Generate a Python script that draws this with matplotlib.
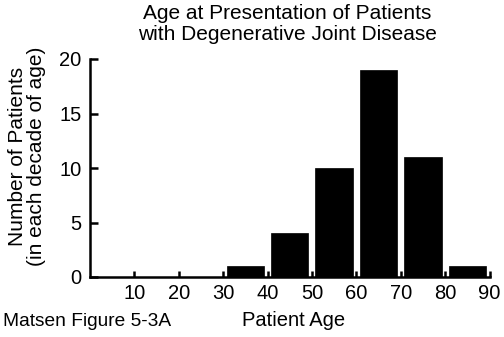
import matplotlib.pyplot as plt

# patients per decade of age
decade_start = [0, 10, 20, 30, 40, 50, 60, 70, 80]
patients = [0, 0, 0, 1, 4, 10, 19, 11, 1]
xticks = [10, 20, 30, 40, 50, 60, 70, 80, 90]
yticks = [0, 5, 10, 15, 20]

plt.rcParams['font.family'] = ['Liberation Sans', 'DejaVu Sans']

fig = plt.figure(figsize=(5.04, 3.37), dpi=100)
ax = fig.add_axes([90/504, 1-277/337, 399.5/504, 218/337])

centers = [d + 5 for d in decade_start]
ax.bar(centers, patients, width=8.4, color='black', edgecolor='black', linewidth=0.5)

ax.set_xlim(0, 90)
ax.set_ylim(0, 20)
ax.set_xticks(xticks)
ax.set_yticks(yticks)
ax.tick_params(axis='both', direction='in', labelsize=14.5, width=1.8, colors='black')
ax.tick_params(axis='y', length=6, pad=6)
ax.tick_params(axis='x', length=4, pad=5)
for side in ['top', 'right']:
    ax.spines[side].set_visible(False)
for side in ['left', 'bottom']:
    ax.spines[side].set_linewidth(1.8)

fig.text(287/504, 1-24/337, 'Age at Presentation of Patients\nwith Degenerative Joint Disease',
         ha='center', va='center', fontsize=15, linespacing=1.08)
fig.text(27/504, 1-156/337, 'Number of Patients\n(in each decade of age)',
         ha='center', va='center', rotation=90, fontsize=15, linespacing=1.05)
fig.text(294/504, 1-320/337, 'Patient Age', ha='center', va='center', fontsize=14.5)
fig.text(3/504, 1-322/337, 'Matsen Figure 5-3A', ha='left', va='center', fontsize=13.8)

fig.savefig('out.png', dpi=100)
